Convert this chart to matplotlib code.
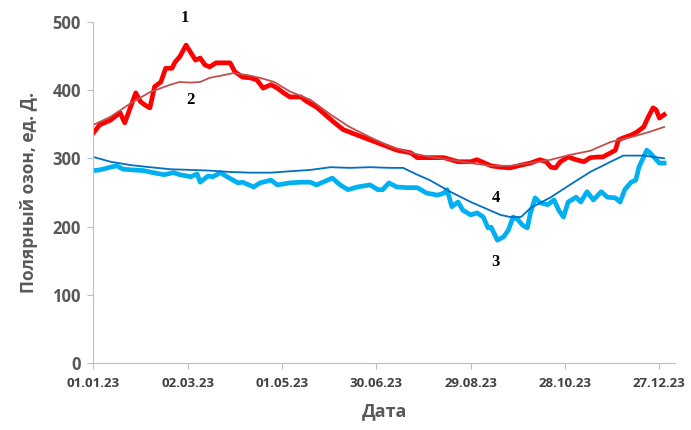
import matplotlib
matplotlib.use('Agg')
import matplotlib.pyplot as plt
import matplotlib.dates as mdates
import numpy as np

plt.rcParams['font.family'] = ['Open Sans', 'DejaVu Sans']

start = np.datetime64('2023-01-01')

# 1 - daily polar ozone (thick red)
d1 = [0, 4, 11, 17, 20, 27, 30, 33, 36, 39, 43, 46, 50, 52, 55, 59, 62, 65, 68, 71,
      74, 78, 83, 87, 90, 95, 100, 104, 108, 113, 117, 121, 125, 132, 136, 142, 146, 153,
      159, 168, 176, 184, 193, 202, 206, 214, 223, 232, 240, 244, 253, 259, 265, 272, 278,
      284, 288, 291, 294, 297, 302, 307, 312, 316, 321, 324, 329, 332, 334, 337, 342, 346,
      350, 353, 356, 358, 360, 363]
v1 = [337, 349, 356, 367, 352, 396, 383, 378, 374, 405, 412, 432, 432, 441, 449, 466, 455,
      444, 447, 437, 434, 440, 440, 440, 427, 419, 418, 415, 403, 408, 403, 396, 390, 390,
      383, 375, 367, 353, 342, 334, 327, 320, 312, 308, 301, 301, 301, 295, 295, 298, 289,
      287, 286, 290, 293, 298, 295, 287, 286, 295, 302, 298, 295, 301, 302, 302, 308, 312,
      327, 330, 334, 339, 346, 361, 374, 371, 359, 364]

# 2 - smoothed (thin brown-red)
d2 = [0, 11, 24, 36, 49, 55, 62, 68, 74, 83, 89, 98, 106, 115, 125, 138, 151, 163, 176,
      189, 202, 214, 227, 240, 253, 265, 278, 291, 303, 316, 323, 329, 342, 354, 363]
v2 = [349, 361, 381, 397, 408, 412, 411, 412, 418, 422, 425, 422, 418, 412, 398, 386, 364,
      346, 331, 317, 308, 302, 298, 293, 289, 289, 293, 298, 305, 311, 318, 324, 331, 339, 346]

# 3 - daily (thick light blue)
d3 = [0, 4, 11, 15, 19, 25, 32, 38, 45, 51, 55, 62, 66, 68, 73, 76, 81, 85, 92, 95, 102,
      106, 113, 117, 125, 132, 138, 142, 146, 152, 157, 162, 168, 176, 181, 184, 188, 193,
      200, 206, 212, 219, 223, 225, 228, 232, 235, 240, 244, 248, 251, 253, 257, 261, 264,
      267, 270, 273, 276, 278, 281, 284, 289, 293, 296, 299, 302, 307, 310, 314, 318, 323,
      327, 332, 335, 338, 342, 345, 347, 350, 352, 354, 358, 360, 363]
v3 = [282, 283, 287, 289, 284, 283, 282, 279, 276, 279, 276, 273, 277, 265, 274, 273, 279,
      273, 264, 265, 258, 264, 268, 261, 264, 265, 265, 261, 265, 271, 261, 254, 258, 261,
      254, 254, 264, 258, 257, 257, 249, 246, 249, 254, 229, 236, 224, 217, 220, 214, 198,
      199, 180, 185, 195, 214, 210, 202, 198, 220, 242, 235, 232, 239, 224, 214, 236, 243,
      236, 251, 239, 251, 243, 242, 236, 254, 265, 268, 287, 302, 312, 308, 298, 293, 293]

# 4 - smoothed (thin blue)
d4 = [0, 11, 24, 36, 49, 62, 74, 87, 100, 113, 125, 138, 151, 163, 176, 189, 197, 206,
      214, 227, 240, 253, 259, 265, 272, 278, 291, 303, 316, 329, 337, 350, 363]
v4 = [302, 295, 290, 287, 284, 283, 282, 280, 279, 279, 281, 283, 287, 286, 287, 286, 286,
      276, 268, 251, 236, 223, 217, 214, 214, 227, 243, 261, 280, 295, 304, 304, 300]


def to_dates(days):
    return start + np.array(days).astype('timedelta64[D]')


fig = plt.figure(figsize=(6.91, 4.30), dpi=100)
ax = fig.add_axes([0.135, 0.156, 0.842, 0.793])

ax.plot(to_dates(d1), v1, color='#FF0000', lw=3.4, solid_joinstyle='round')
ax.plot(to_dates(d2), v2, color='#C0504D', lw=1.3)
ax.plot(to_dates(d3), v3, color='#00B0F0', lw=3.4, solid_joinstyle='round')
ax.plot(to_dates(d4), v4, color='#0070C0', lw=1.3)

ax.set_ylim(0, 500)
ax.set_xlim(start, start + np.timedelta64(370, 'D'))
ax.set_yticks(range(0, 501, 100))
ax.set_xticks(to_dates(range(0, 361, 60)))
ax.xaxis.set_major_formatter(mdates.DateFormatter('%d.%m.%y'))

for s in ['top', 'right']:
    ax.spines[s].set_visible(False)
ax.spines['left'].set_color('#BFBFBF')
ax.spines['bottom'].set_color('#BFBFBF')
ax.tick_params(axis='both', colors='#BFBFBF', length=4, width=0.8)
ax.tick_params(axis='y', pad=5)
ax.tick_params(axis='x', pad=6)
for lab in ax.get_yticklabels():
    lab.set_color('#595959')
    lab.set_fontweight('bold')
    lab.set_fontsize(12)
for lab in ax.get_xticklabels():
    lab.set_color('#404040')
    lab.set_fontweight('bold')
    lab.set_fontsize(9.5)

ax.set_ylabel('Полярный озон, ед. Д.', fontsize=12.5, fontweight='bold', color='#595959',
              labelpad=10)
ax.set_xlabel('Дата', fontsize=13, fontweight='bold', color='#595959', labelpad=9)

tfont = dict(family='Liberation Serif', fontweight='bold', fontsize=12, color='black',
             ha='center', va='center')
ax.text(start + np.timedelta64(58, 'D'), 506, '1', clip_on=False, **tfont)
ax.text(start + np.timedelta64(62, 'D'), 386, '2', **tfont)
ax.text(start + np.timedelta64(256, 'D'), 148, '3', **tfont)
ax.text(start + np.timedelta64(256, 'D'), 242, '4', **tfont)

fig.savefig('out.png', dpi=100)
